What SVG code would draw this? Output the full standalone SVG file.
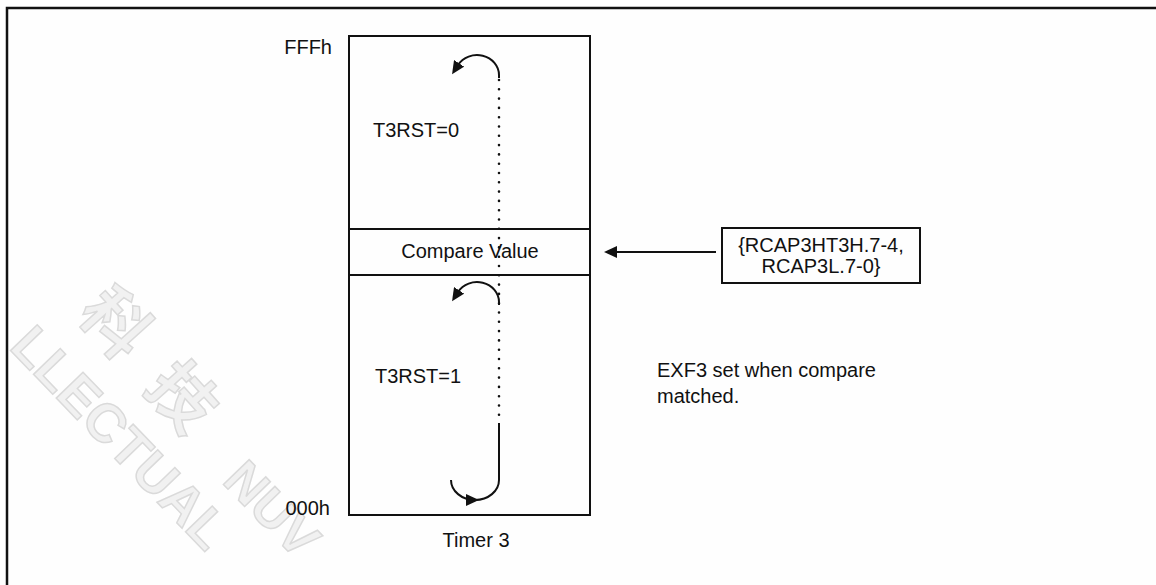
<svg xmlns="http://www.w3.org/2000/svg" width="1156" height="585" viewBox="0 0 1156 585">
<style>
  .t { font-family: "Liberation Sans", Arial, sans-serif; font-size: 20px; fill: #111; }
  .ln { stroke: #111; stroke-width: 2; fill: none; }
  .wm { font-family: "Liberation Sans", "Noto Sans CJK TC", sans-serif; fill: #f1f1f1; stroke: #dadada; stroke-width: 1.5; font-weight: bold; }
</style>
<defs>
  <marker id="ah" markerUnits="userSpaceOnUse" markerWidth="14" markerHeight="12" refX="2" refY="6" orient="auto">
    <path d="M0,0 L13,6 L0,12 Z" fill="#111"/>
  </marker>
</defs>
<rect x="0" y="0" width="1156" height="585" fill="#fefefe"/>
<g id="watermark">
  <text class="wm" font-size="66" letter-spacing="34" transform="translate(76,314) rotate(48)">科技</text>
  <text class="wm" font-size="54" transform="translate(8,348) rotate(46)">LLECTUAL</text>
  <text class="wm" font-size="52" transform="translate(221,482) rotate(46)">NUV</text>
</g>
<g id="frame">
  <path d="M7,585 L7,8 L1156,8" fill="none" stroke="#111" stroke-width="2.5"/>
</g>
<g id="timer3">
  <rect x="349" y="36" width="241" height="479" class="ln"/>
  <text class="t" x="332" y="54" text-anchor="end">FFFh</text>
  <text class="t" x="330" y="515" text-anchor="end">000h</text>
  <text class="t" x="373" y="137">T3RST=0</text>
  <text class="t" x="375" y="383">T3RST=1</text>
  <text class="t" x="476" y="547" text-anchor="middle">Timer 3</text>
</g>
<g id="compare">
  <line x1="349" y1="229" x2="590" y2="229" class="ln"/>
  <line x1="349" y1="275" x2="590" y2="275" class="ln"/>
  <text class="t" x="470" y="258" text-anchor="middle">Compare Value</text>
</g>
<g id="rcap">
  <rect x="722" y="228" width="198" height="55" class="ln"/>
  <text class="t" x="821" y="252" text-anchor="middle">{RCAP3HT3H.7-4,</text>
  <text class="t" x="821" y="273" text-anchor="middle">RCAP3L.7-0}</text>
</g>
<g id="note">
  <text class="t" x="657" y="377">EXF3 set when compare</text>
  <text class="t" x="657" y="403">matched.</text>
</g>
<g id="connectors">
  <line x1="499" y1="80" x2="499" y2="416" stroke="#111" stroke-width="2.6" stroke-linecap="round" stroke-dasharray="0 9.3"/>
  <path d="M499,78 L499,75 A22,20 0 0 0 458,65" class="ln" marker-end="url(#ah)"/>
  <path d="M499,305 L499,302 A22,20 0 0 0 458,292" class="ln" marker-end="url(#ah)"/>
  <path d="M451,480 A24,20 0 0 0 499,480 L499,423" class="ln"/>
  <path d="M466,494 L479,500 L466,506 Z" fill="#111"/>
  <line x1="716" y1="252" x2="615" y2="252" class="ln" marker-end="url(#ah)"/>
</g>
</svg>
